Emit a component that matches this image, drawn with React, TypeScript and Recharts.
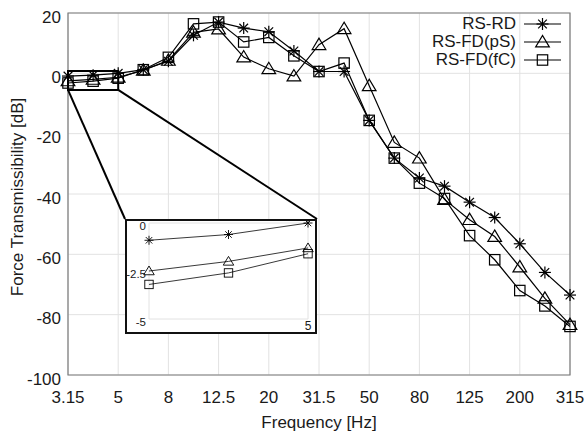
import React from 'react';
import { LineChart, Line, XAxis, YAxis, CartesianGrid, ReferenceArea, ReferenceLine } from 'recharts';

const freqLabels = ['3.15', '4', '5', '6.3', '8', '10', '12.5', '16', '20', '25', '31.5', '40', '50', '63', '80', '100', '125', '160', '200', '250', '315'];
const rsRd = [-0.9, -0.6, 0, 1.2, 4.0, 12.6, 17.0, 15.0, 13.8, 7.4, 0.6, 0.6, -15.6, -28.1, -34.7, -37.4, -42.7, -47.8, -56.5, -66.0, -73.5];
const rsFdPs = [-2.5, -2.0, -1.3, 1.0, 4.3, 13.6, 14.7, 5.4, 1.5, -0.9, 9.5, 14.8, -4.1, -22.9, -28.1, -41.8, -48.5, -54.1, -64.2, -74.6, -83.3];
const rsFdFc = [-3.2, -2.6, -1.6, 1.2, 5.3, 16.4, 17.0, 10.4, 11.9, 5.8, 0.6, 3.4, -15.6, -28.1, -36.4, -41.5, -53.8, -61.8, -72.0, -77.1, -83.9];
const seriesNames = ['RS-RD', 'RS-FD(pS)', 'RS-FD(fC)'];
const yTicks = [-100, -80, -60, -40, -20, 0, 20];
const xTickIdx = [0, 2, 4, 6, 8, 10, 12, 14, 16, 18, 20];
const insetCount = 3;
const insetYTicks = [0, -2.5, -5];

const data = freqLabels.map((f, i) => ({ idx: i, f, rd: rsRd[i], ps: rsFdPs[i], fc: rsFdFc[i] }));
const insetData = data.slice(0, insetCount);

const FONT = '"Liberation Sans", Arial, sans-serif';

// main plot geometry
const W = 587, H = 434;
const M = { top: 13, right: 17, bottom: 0, left: 0 };
const YW = 68, XH = 59;
const plotL = M.left + YW, plotR = W - M.right, plotT = M.top, plotB = H - XH;
const pxToX = (px: number) => ((px - plotL) / (plotR - plotL)) * 20;
const pxToY = (py: number) => 20 - ((py - plotT) / (plotB - plotT)) * 120;

// inset geometry
const INS = { left: 125, top: 219, width: 192, height: 115 };
const zoomBox = { x1: 0, x2: 2, y1: -5.5, y2: 0.8 };

const Star = ({ cx, cy, r, sw = 1.2 }: any) => {
  const d = r * 0.72;
  return (
    <g stroke="#000" strokeWidth={sw} fill="none">
      <line x1={cx - r} y1={cy} x2={cx + r} y2={cy} />
      <line x1={cx} y1={cy - r} x2={cx} y2={cy + r} />
      <line x1={cx - d} y1={cy - d} x2={cx + d} y2={cy + d} />
      <line x1={cx - d} y1={cy + d} x2={cx + d} y2={cy - d} />
    </g>
  );
};
const Tri = ({ cx, cy, r, sw = 1.2 }: any) => (
  <polygon
    points={`${cx},${cy - r} ${cx - r * 1.05},${cy + r * 0.75} ${cx + r * 1.05},${cy + r * 0.75}`}
    stroke="#000" strokeWidth={sw} fill="none"
  />
);
const Sq = ({ cx, cy, r, sw = 1.2 }: any) => (
  <rect x={cx - r} y={cy - r} width={2 * r} height={2 * r} stroke="#000" strokeWidth={sw} fill="none" />
);

const markers = [Star, Tri, Sq];
const mainR = [6, 6.5, 5.2];
const insetR = [4.5, 5, 4.2];

const YTick = ({ x, y, payload }: any) => (
  <text x={x} y={y + 4} textAnchor="end" dominantBaseline="central" fontSize={17} fill="#1a1a1a" fontFamily={FONT}>
    {payload.value}
  </text>
);
const XTick = ({ x, y, payload }: any) => (
  <text x={x} y={y} textAnchor="middle" dominantBaseline="hanging" fontSize={17} fill="#1a1a1a" fontFamily={FONT}>
    {freqLabels[payload.value]}
  </text>
);
const InsetYTick = ({ x, y, payload }: any) => (
  <text x={x} y={y + 3} textAnchor="end" dominantBaseline="central" fontSize={11.5} fill="#1a1a1a" fontFamily={FONT}>
    {payload.value}
  </text>
);
const InsetXTick = ({ x, y, payload }: any) => (
  <text x={x} y={y} textAnchor="middle" dominantBaseline="central" fontSize={12} fill="#1a1a1a" fontFamily={FONT}>
    {freqLabels[payload.value]}
  </text>
);

const keys = ['rd', 'ps', 'fc'];

export default function App() {
  return (
    <div style={{ position: 'absolute', left: 0, top: 0, width: W, height: H, background: '#fff', fontFamily: FONT }}>
      <LineChart width={W} height={H} data={data} margin={M}>
        <CartesianGrid stroke="#e2e2e2" strokeWidth={1} />
        <XAxis
          dataKey="idx" type="number" domain={[0, 20]} ticks={xTickIdx} interval={0}
          height={XH} tickSize={0} tickMargin={16} axisLine={false} tick={<XTick />}
          label={{
            content: () => (
              <text x={(plotL + plotR) / 2} y={428} textAnchor="middle" fontSize={17} fill="#1a1a1a" fontFamily={FONT}>
                Frequency [Hz]
              </text>
            ),
          }}
        />
        <YAxis
          type="number" domain={[-100, 20]} ticks={yTicks} interval={0} width={YW}
          tickSize={0} tickMargin={7} axisLine={false} tick={<YTick />}
          label={{
            content: () => (
              <text x={17} y={197} transform={`rotate(-90 17 197)`} textAnchor="middle" dominantBaseline="central" fontSize={17} fill="#1a1a1a" fontFamily={FONT}>
                Force Transmissibility [dB]
              </text>
            ),
          }}
        />
        <ReferenceArea x1={0} x2={20} y1={-100} y2={20} fill="none" stroke="#7a7a7a" strokeWidth={1.2} ifOverflow="visible" />
        <ReferenceArea x1={zoomBox.x1} x2={zoomBox.x2} y1={zoomBox.y1} y2={zoomBox.y2} fill="none" stroke="#000" strokeWidth={2} ifOverflow="visible" />
        <ReferenceLine
          segment={[{ x: zoomBox.x1, y: zoomBox.y1 }, { x: pxToX(INS.left), y: pxToY(INS.top) }]}
          stroke="#000" strokeWidth={2} ifOverflow="visible"
        />
        <ReferenceLine
          segment={[{ x: zoomBox.x2, y: zoomBox.y1 }, { x: pxToX(INS.left + INS.width), y: pxToY(INS.top) }]}
          stroke="#000" strokeWidth={2} ifOverflow="visible"
        />
        {keys.map((k, si) => {
          const Mk = markers[si];
          return (
            <Line
              key={k} dataKey={k} type="linear" stroke="#000" strokeWidth={1.2} isAnimationActive={false}
              dot={(p: any) => <Mk key={`${k}-${p.index}`} cx={p.cx} cy={p.cy} r={mainR[si]} />}
              activeDot={false}
            />
          );
        })}
      </LineChart>

      {/* legend */}
      <div style={{ position: 'absolute', left: 400, top: 15, width: 165 }}>
        {seriesNames.map((n, si) => {
          const Mk = markers[si];
          return (
            <div key={n} style={{ display: 'flex', alignItems: 'center', justifyContent: 'flex-end', height: 18 }}>
              <span style={{ fontSize: 17, color: '#1a1a1a', lineHeight: '18px', whiteSpace: 'nowrap' }}>{n}</span>
              <svg width={44} height={18} style={{ marginLeft: 5, display: 'block' }}>
                <line x1={3} y1={9} x2={40} y2={9} stroke="#000" strokeWidth={1.2} />
                <Mk cx={21.5} cy={9} r={mainR[si]} />
              </svg>
            </div>
          );
        })}
      </div>

      {/* inset */}
      <div style={{ position: 'absolute', left: INS.left, top: INS.top, width: INS.width, height: INS.height, background: '#fff' }} />
      <div style={{ position: 'absolute', left: INS.left, top: INS.top, width: INS.width, height: INS.height }}>
        <LineChart width={INS.width} height={INS.height} data={insetData} margin={{ top: 4, right: 9, bottom: 2, left: 0 }}>
          <XAxis
            dataKey="idx" type="number" domain={[0, insetCount - 1]} ticks={[insetCount - 1]} interval={0}
            height={13} tickSize={0} tickMargin={7} axisLine={false} tick={<InsetXTick />}
          />
          <YAxis
            type="number" domain={[-5, 0]} ticks={insetYTicks} interval={0} width={24}
            tickSize={0} tickMargin={3} axisLine={false} tick={<InsetYTick />}
          />
          <ReferenceArea x1={0} x2={insetCount - 1} y1={-5} y2={0} fill="none" stroke="#e2e2e2" strokeWidth={1} ifOverflow="visible" />
          {keys.map((k, si) => {
            const Mk = markers[si];
            return (
              <Line
                key={k} dataKey={k} type="linear" stroke="#222" strokeWidth={0.9} isAnimationActive={false}
                dot={(p: any) => <Mk key={`i${k}-${p.index}`} cx={p.cx} cy={p.cy} r={insetR[si]} sw={0.9} />}
                activeDot={false}
              />
            );
          })}
        </LineChart>
      </div>
      <div
        style={{
          position: 'absolute', left: INS.left, top: INS.top, width: INS.width, height: INS.height,
          boxSizing: 'border-box', border: '2px solid #111', pointerEvents: 'none',
        }}
      />
    </div>
  );
}
